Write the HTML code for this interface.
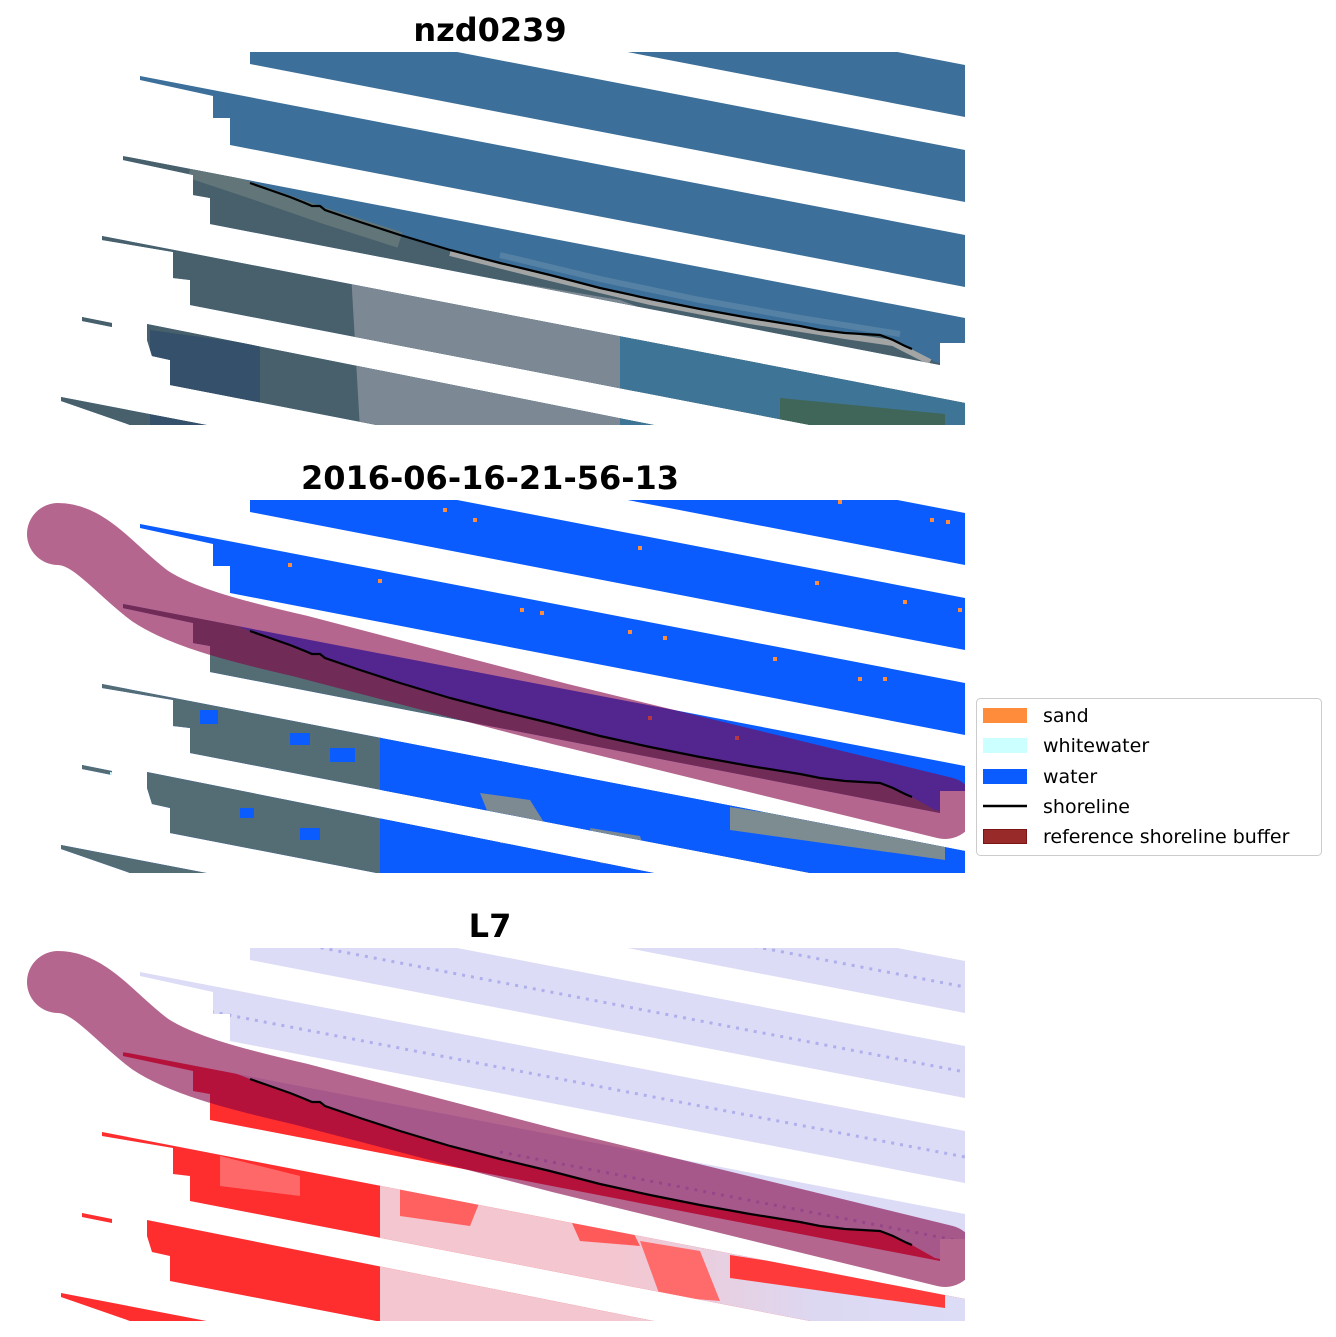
<!DOCTYPE html>
<html><head><meta charset="utf-8"><style>
html,body{margin:0;padding:0;background:#fff;}
svg{display:block;}
text{font-family:"DejaVu Sans","Liberation Sans",sans-serif;}
</style></head><body>
<svg width="1336" height="1337" viewBox="0 0 1336 1337" xmlns="http://www.w3.org/2000/svg">
<defs>
<clipPath id="bands">
<polygon points="560,-13 965,65 965,117 560,39"/>
<polygon points="250,12 965,150 965,202 250,64"/>
<polygon points="140,76 965,235 965,287 230,145 230,118 213,118 213,96 140,80"/>
<polygon points="123,156 965,318 965,343 940,343 940,365 210,224 210,198 193,195 193,175 123,160"/>
<polygon points="102,236 965,403 965,455 190,305 190,280 173,278 173,252 102,240"/>
<polygon points="82,317 112,323 112,327 82,321"/>
<polygon points="147,324 965,487 965,539 170,385 170,360 152,356 147,340"/>
<polygon points="61,397 965,571 965,623 130,470 130,425 61,401"/>
</clipPath>
<clipPath id="ax"><rect x="0" y="52" width="965" height="373"/></clipPath>
<linearGradient id="lag3" x1="0" x2="1" y1="0" y2="0">
<stop offset="0.4" stop-color="#f4c6cf"/><stop offset="0.75" stop-color="#dcd8f2"/><stop offset="1" stop-color="#dcdcf6"/>
</linearGradient>
</defs>

<text x="490" y="41" font-size="32" font-weight="bold" text-anchor="middle">nzd0239</text>
<text x="490" y="489" font-size="32" font-weight="bold" text-anchor="middle">2016-06-16-21-56-13</text>
<text x="490" y="937" font-size="32" font-weight="bold" text-anchor="middle">L7</text>

<!-- Panel 1 -->
<g clip-path="url(#ax)">
<g clip-path="url(#bands)">
<rect x="0" y="0" width="970" height="440" fill="#3c6f99"/>
<polygon points="0,150 190,160 250,183 270,190 290,197 305,203 312,206 320,206 325,210 360,222 400,235 450,250 500,263 550,275 600,288 650,299 700,309 750,318 800,326 820,330 845,333 880,335 893,340 905,346 912,349 935,362 965,368 965,430 0,430" fill="#47606c"/>
<polyline points="190,170 250,190 325,216 400,240" fill="none" stroke="#62767a" stroke-width="16"/>
<polyline points="450,253 550,278 650,302 750,321 845,336 893,343 930,362" fill="none" stroke="#a3a5a5" stroke-width="6"/>
<polyline points="500,255 600,279 700,300 800,318 900,334" fill="none" stroke="#6d93b2" stroke-width="6" opacity="0.5"/>
<polygon points="350,255 620,300 700,330 700,430 360,430" fill="#7c8893"/>
<polygon points="620,325 965,382 965,430 620,430" fill="#3e7496"/>
<polygon points="470,360 640,395 640,405 470,372" fill="#4a7f98"/>
<polygon points="780,398 945,414 945,430 780,430" fill="#3f6658"/>
<polygon points="150,330 260,345 260,425 150,425" fill="#35506a"/>
</g>
<polyline points="250,183 270,190 290,197 305,203 312,206 320,206 325,210 360,222 400,235 450,250 500,263 550,275 600,288 650,299 700,309 750,318 800,326 820,330 845,333 880,335 893,340 905,346 912,349" fill="none" stroke="#000" stroke-width="2.2"/>
</g>

<!-- Panel 2 -->
<g transform="translate(0,448)">
<g clip-path="url(#ax)">
<g clip-path="url(#bands)">
<rect x="0" y="0" width="970" height="440" fill="#0a5cff"/>
<polygon points="0,150 190,160 250,183 270,190 290,197 305,203 312,206 320,206 325,210 360,222 400,235 450,250 500,263 550,275 600,288 650,299 700,309 750,318 800,326 820,330 845,333 880,335 893,340 905,346 912,349 935,362 965,368 965,430 0,430" fill="#546c74"/>
<polygon points="380,272 965,385 965,430 380,430" fill="#0a5cff"/>
<polygon points="730,359 945,392 945,412 730,382" fill="#7d8c90"/>
<polygon points="480,345 530,352 560,400 500,395" fill="#7d8a92"/>
<polygon points="590,380 640,388 650,420 600,415" fill="#7d8a92"/>
<rect x="200" y="262" width="18" height="14" fill="#0a5cff"/>
<rect x="290" y="285" width="20" height="12" fill="#0a5cff"/>
<rect x="330" y="300" width="25" height="14" fill="#0a5cff"/>
<rect x="240" y="360" width="14" height="10" fill="#0a5cff"/>
<rect x="300" y="380" width="20" height="12" fill="#0a5cff"/>
<polygon points="100,240 125,245 125,250 100,245" fill="#ccffff"/>
<polygon points="110,324 140,330 140,334 110,328" fill="#ccffff"/>
<g fill="#ff8c3a">
<rect x="443" y="60" width="4" height="4"/><rect x="473" y="70" width="4" height="4"/><rect x="288" y="115" width="4" height="4"/><rect x="378" y="131" width="4" height="4"/><rect x="638" y="98" width="4" height="4"/><rect x="520" y="160" width="4" height="4"/><rect x="540" y="163" width="4" height="4"/><rect x="628" y="182" width="4" height="4"/><rect x="663" y="188" width="4" height="4"/><rect x="815" y="133" width="4" height="4"/><rect x="903" y="152" width="4" height="4"/><rect x="958" y="160" width="4" height="4"/><rect x="930" y="70" width="4" height="4"/><rect x="946" y="72" width="4" height="4"/><rect x="838" y="52" width="4" height="4"/><rect x="773" y="209" width="4" height="4"/><rect x="858" y="229" width="4" height="4"/><rect x="883" y="229" width="4" height="4"/><rect x="735" y="288" width="4" height="4"/><rect x="648" y="268" width="4" height="4"/>
</g>
</g>
<path d="M58,86 C90,86 115,122 150,148 C180,168 230,182 300,198 L560,266 L945,360" fill="none" stroke="rgb(132,0,68)" stroke-opacity="0.6" stroke-width="62" stroke-linecap="round" stroke-linejoin="round"/>
<polyline points="250,183 270,190 290,197 305,203 312,206 320,206 325,210 360,222 400,235 450,250 500,263 550,275 600,288 650,299 700,309 750,318 800,326 820,330 845,333 880,335 893,340 905,346 912,349" fill="none" stroke="#000" stroke-width="2.2"/>
</g>
</g>

<!-- Panel 3 -->
<g transform="translate(0,896)">
<g clip-path="url(#ax)">
<g clip-path="url(#bands)">
<rect x="0" y="0" width="970" height="440" fill="#dcdcf6"/>
<g fill="none" stroke="#a4a4ec" stroke-width="3" stroke-dasharray="3 6" opacity="0.8">
<line x1="560" y1="13" x2="965" y2="91"/>
<line x1="250" y1="38" x2="965" y2="176"/>
<line x1="140" y1="102" x2="965" y2="261"/>
<line x1="500" y1="256" x2="965" y2="346"/>
</g>
<polygon points="0,150 190,160 250,183 270,190 290,197 305,203 312,206 320,206 325,210 360,222 400,235 450,250 500,263 550,275 600,288 650,299 700,309 750,318 800,326 820,330 845,333 880,335 893,340 905,346 912,349 935,362 965,368 965,430 0,430" fill="#ff2e2e"/>
<polygon points="380,272 965,385 965,430 380,430" fill="url(#lag3)"/>
<polygon points="730,359 945,392 945,412 730,382" fill="#ff3a3a"/>
<polygon points="560,300 620,310 640,350 580,345" fill="#ff5a5a"/>
<polygon points="640,345 700,355 720,405 660,400" fill="#ff6a6a"/>
<polygon points="400,290 480,305 470,330 400,320" fill="#ff6060"/>
<polygon points="220,260 300,280 300,300 220,290" fill="#ff9090" opacity="0.6"/>
</g>
<path d="M58,86 C90,86 115,122 150,148 C180,168 230,182 300,198 L560,266 L945,360" fill="none" stroke="rgb(132,0,68)" stroke-opacity="0.6" stroke-width="62" stroke-linecap="round" stroke-linejoin="round"/>
<polyline points="250,183 270,190 290,197 305,203 312,206 320,206 325,210 360,222 400,235 450,250 500,263 550,275 600,288 650,299 700,309 750,318 800,326 820,330 845,333 880,335 893,340 905,346 912,349" fill="none" stroke="#000" stroke-width="2.2"/>
</g>
</g>

<rect x="976.5" y="698.5" width="345" height="157" rx="4" fill="#fff" stroke="#cccccc"/>
<rect x="983" y="708" width="44" height="15" fill="#ff8c3a"/>
<rect x="983" y="738" width="44" height="15" fill="#ccffff"/>
<rect x="983" y="769" width="44" height="15" fill="#0a5cff"/>
<line x1="983" y1="806" x2="1027" y2="806" stroke="#000" stroke-width="2.5"/>
<rect x="983.5" y="829.5" width="43" height="14" fill="#992a2a" stroke="#7a1515"/>
<g font-size="19" fill="#000">
<text x="1043" y="722">sand</text>
<text x="1043" y="752">whitewater</text>
<text x="1043" y="783">water</text>
<text x="1043" y="813">shoreline</text>
<text x="1043" y="843">reference shoreline buffer</text>
</g>
</svg>
</body></html>
